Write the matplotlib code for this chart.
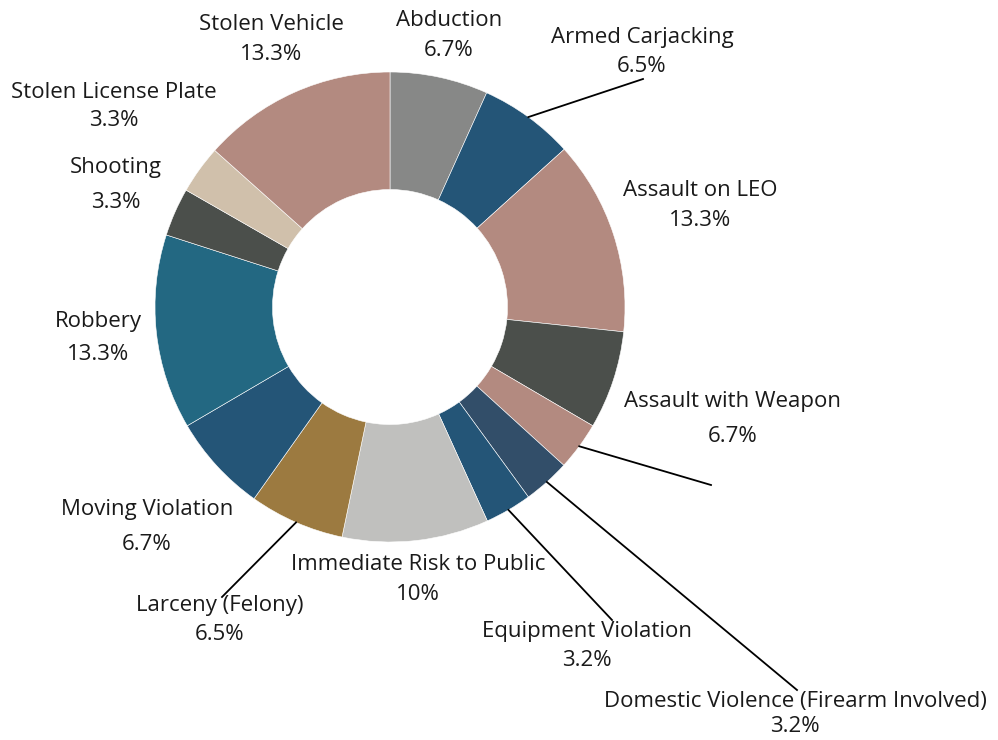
import numpy as np
import matplotlib
matplotlib.use('Agg')
import matplotlib.pyplot as plt

# slices, clockwise from 12 o'clock
categories = ['Abduction', 'Armed Carjacking', 'Assault on LEO', 'Assault with Weapon', '',
              'Domestic Violence (Firearm Involved)', 'Equipment Violation',
              'Immediate Risk to Public', 'Larceny (Felony)', 'Moving Violation',
              'Robbery', 'Shooting', 'Stolen License Plate', 'Stolen Vehicle']
values = [6.7, 6.5, 13.3, 6.7, 3.3, 3.2, 3.2, 10, 6.5, 6.7, 13.3, 3.3, 3.3, 13.3]
pct_labels = ['6.7%', '6.5%', '13.3%', '6.7%', '', '3.2%', '3.2%', '10%', '6.5%', '6.7%',
              '13.3%', '3.3%', '3.3%', '13.3%']
colors = ['#878887', '#245577', '#b38a80', '#4b4f4b', '#b38a80', '#324e69', '#245577',
          '#c0c0be', '#9c7a40', '#245577', '#236882', '#4b4f4b', '#d0c0ab', '#b38a80']

# label layout (pixel coords, y from top): name centre, percent centre
name_pos = [(449, 20), (642, 37), (700, 190), (733, 401), None, (795, 701), (587, 632),
            (418, 565), (220, 606), (147, 510), (98, 321), (116, 168), (114, 92), (271, 24)]
pct_pos = [(449, 50), (642, 66), (700, 221), (733, 436), None, (795, 727), (587, 661),
           (418, 594), (220, 635), (147, 545), (98, 355), (116, 202), (114, 121), (271, 55)]
# leader line end points for the slices that have one
leaders = {1: (643, 79), 4: (711, 485), 5: (797, 690), 6: (612, 620), 8: (222, 597)}

W, H = 998, 740
cx, cy, R = 390, 307, 235

fig = plt.figure(figsize=(W / 100, H / 100), dpi=100)
ax = fig.add_axes([0, 0, 1, 1])

wedges, _ = ax.pie(values, colors=colors, startangle=90, counterclock=False,
                   center=(cx, H - cy), radius=R, frame=True,
                   wedgeprops=dict(width=R * 0.5, edgecolor='white', linewidth=0.4))
ax.set_xlim(0, W)
ax.set_ylim(0, H)
ax.set_aspect('equal')
ax.axis('off')

font = dict(family=['Open Sans', 'DejaVu Sans'], fontsize=16, color='#1a1a1a',
            ha='center', va='center')
for i, w in enumerate(wedges):
    if name_pos[i] is not None:
        ax.text(name_pos[i][0], H - name_pos[i][1], categories[i], **font)
        ax.text(pct_pos[i][0], H - pct_pos[i][1], pct_labels[i], **font)
    if i in leaders:
        mid = np.deg2rad((w.theta1 + w.theta2) / 2)
        x0 = cx + R * np.cos(mid)
        y0 = (H - cy) + R * np.sin(mid)
        ex, ey = leaders[i]
        ax.plot([x0, ex], [y0, H - ey], color='black', linewidth=1.3)

fig.savefig('out.png', dpi=100)
